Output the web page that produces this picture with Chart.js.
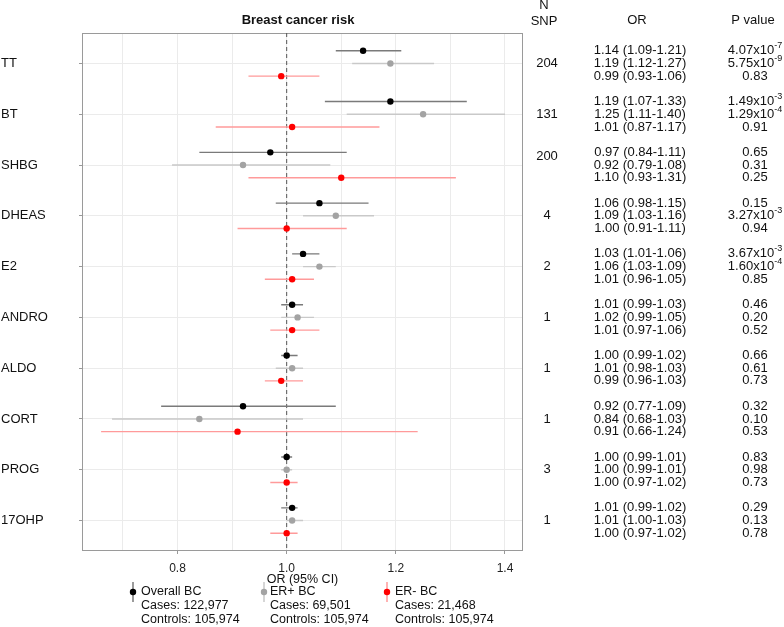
<!DOCTYPE html>
<html>
<head>
<meta charset="utf-8">
<title>Breast cancer risk</title>
<script src="https://cdn.jsdelivr.net/npm/chart.js@4.4.1/dist/chart.umd.min.js"></script>
<style>
  html, body { margin: 0; padding: 0; background: #fff; }
  #wrap { width: 784px; height: 627px; }
</style>
</head>
<body>
<div id="wrap"><canvas id="forest" width="784" height="627"></canvas></div>
<script>
// Data (OR with 95% CI)
const hormones = ['TT', 'BT', 'SHBG', 'DHEAS', 'E2', 'ANDRO', 'ALDO', 'CORT', 'PROG', '17OHP'];
const nSnp = [204, 131, 200, 4, 2, 1, 1, 1, 3, 1];

const overallOR = [1.14, 1.19, 0.97, 1.06, 1.03, 1.01, 1.00, 0.92, 1.00, 1.01];
const overallLo = [1.09, 1.07, 0.84, 0.98, 1.01, 0.99, 0.99, 0.77, 0.99, 0.99];
const overallHi = [1.21, 1.33, 1.11, 1.15, 1.06, 1.03, 1.02, 1.09, 1.01, 1.02];
const overallP = ['4.07x10^-7', '1.49x10^-3', '0.65', '0.15', '3.67x10^-3', '0.46', '0.66', '0.32', '0.83', '0.29'];

const erPosOR = [1.19, 1.25, 0.92, 1.09, 1.06, 1.02, 1.01, 0.84, 1.00, 1.01];
const erPosLo = [1.12, 1.11, 0.79, 1.03, 1.03, 0.99, 0.98, 0.68, 0.99, 1.00];
const erPosHi = [1.27, 1.40, 1.08, 1.16, 1.09, 1.05, 1.03, 1.03, 1.01, 1.03];
const erPosP = ['5.75x10^-9', '1.29x10^-4', '0.31', '3.27x10^-3', '1.60x10^-4', '0.20', '0.61', '0.10', '0.98', '0.13'];

const erNegOR = [0.99, 1.01, 1.10, 1.00, 1.01, 1.01, 0.99, 0.91, 1.00, 1.00];
const erNegLo = [0.93, 0.87, 0.93, 0.91, 0.96, 0.97, 0.96, 0.66, 0.97, 0.97];
const erNegHi = [1.06, 1.17, 1.31, 1.11, 1.05, 1.06, 1.03, 1.24, 1.02, 1.02];
const erNegP = ['0.83', '0.91', '0.25', '0.94', '0.85', '0.52', '0.73', '0.53', '0.73', '0.78'];

const seriesNames = ['Overall BC', 'ER+ BC', 'ER- BC'];
const seriesCases = [122977, 69501, 21468];
const seriesControls = [105974, 105974, 105974];

const xTicks = [0.7, 0.8, 0.9, 1.0, 1.1, 1.2, 1.3, 1.4];

// Styles
const FONT = '"Liberation Sans", Arial, sans-serif';
const pointColors = ['#000000', '#a3a3a3', '#ff0000'];
const lineColors = ['#7a7a7a', '#c9c9c9', '#ff9a9a'];
const rowOffset = [-0.25, 0, 0.25];

const series = [
    { or: overallOR, lo: overallLo, hi: overallHi, p: overallP },
    { or: erPosOR, lo: erPosLo, hi: erPosHi, p: erPosP },
    { or: erNegOR, lo: erNegLo, hi: erNegHi, p: erNegP }
];

function yPos(i, k) {
    return i + 1 + rowOffset[k];
}

function isMajor(v) {
    return Math.round(v * 10) % 2 === 0;
}

// CI segments, separated by gaps
function ciData(s, k) {
    const out = [];
    hormones.forEach((h, i) => {
        out.push({ x: s.lo[i], y: yPos(i, k) });
        out.push({ x: s.hi[i], y: yPos(i, k) });
        out.push({ x: null, y: null });
    });
    return out;
}

const datasets = [];
series.forEach((s, k) => {
    datasets.push({
        label: seriesNames[k],
        data: hormones.map((h, i) => ({ x: s.or[i], y: yPos(i, k) })),
        backgroundColor: pointColors[k],
        borderWidth: 0,
        pointRadius: 3.2,
        pointHoverRadius: 3.2,
        order: 0
    });
    datasets.push({
        label: seriesNames[k] + ' CI',
        data: ciData(s, k),
        showLine: true,
        spanGaps: false,
        borderColor: lineColors[k],
        borderWidth: 1.4,
        pointRadius: 0,
        order: 1
    });
});

// Reference line at OR = 1
datasets.push({
    label: 'ref',
    data: [{ x: 1, y: 0.4 }, { x: 1, y: 10.6 }],
    showLine: true,
    borderColor: '#555555',
    borderWidth: 1,
    borderDash: [4, 3],
    pointRadius: 0,
    order: 2
});

function fmtOR(s, i) {
    return s.or[i].toFixed(2) + ' (' + s.lo[i].toFixed(2) + '-' + s.hi[i].toFixed(2) + ')';
}

function drawP(ctx, txt, cx, cy) {
    const parts = txt.split('^');
    ctx.font = '13px ' + FONT;
    const wb = ctx.measureText(parts[0]).width;
    let we = 0;
    if (parts[1]) {
        ctx.font = '9px ' + FONT;
        we = ctx.measureText(parts[1]).width;
    }
    const x0 = cx - (wb + we) / 2;
    ctx.textAlign = 'left';
    ctx.font = '13px ' + FONT;
    ctx.fillText(parts[0], x0, cy);
    if (parts[1]) {
        ctx.font = '9px ' + FONT;
        ctx.fillText(parts[1], x0 + wb, cy - 5);
    }
}

const panelFrame = {
    id: 'panelFrame',
    beforeDatasetsDraw(chart) {
        const { ctx, chartArea: a } = chart;
        ctx.save();
        ctx.strokeStyle = '#9a9a9a';
        ctx.lineWidth = 1;
        ctx.strokeRect(a.left + 0.5, a.top + 0.5, a.right - a.left - 1, a.bottom - a.top - 1);
        ctx.restore();
    }
};

const sideText = {
    id: 'sideText',
    afterDraw(chart) {
        const { ctx } = chart;
        const y = chart.scales.y;
        ctx.save();
        ctx.fillStyle = '#111';
        ctx.textBaseline = 'middle';
        ctx.textAlign = 'center';

        ctx.font = 'bold 13px ' + FONT;
        ctx.fillText('Breast cancer risk', 298, 20);

        ctx.font = '13px ' + FONT;
        ctx.fillText('N', 544, 5);
        ctx.fillText('SNP', 544, 21);
        ctx.fillText('OR', 637, 20);
        ctx.fillText('P value', 753, 20);

        hormones.forEach((h, i) => {
            ctx.textAlign = 'center';
            ctx.font = '13px ' + FONT;
            const nudge = h === 'SHBG' ? -0.17 : 0;
            ctx.fillText(String(nSnp[i]), 547, y.getPixelForValue(i + 1 + nudge));
            series.forEach((s, k) => {
                const py = y.getPixelForValue(yPos(i, k));
                ctx.textAlign = 'center';
                ctx.font = '13px ' + FONT;
                ctx.fillText(fmtOR(s, i), 640, py);
                drawP(ctx, s.p[i], 755, py);
            });
        });

        // Legend
        const markX = [133, 264, 387];
        const textX = [141, 270, 395];
        const rowY = [592, 606, 620];
        seriesNames.forEach((name, k) => {
            ctx.strokeStyle = lineColors[k];
            ctx.lineWidth = 1.5;
            ctx.beginPath();
            ctx.moveTo(markX[k], rowY[0] - 10);
            ctx.lineTo(markX[k], rowY[0] + 10);
            ctx.stroke();
            ctx.fillStyle = pointColors[k];
            ctx.beginPath();
            ctx.arc(markX[k], rowY[0], 3.2, 0, Math.PI * 2);
            ctx.fill();

            ctx.fillStyle = '#111';
            ctx.textAlign = 'left';
            ctx.font = '12.5px ' + FONT;
            ctx.fillText(name, textX[k], rowY[0]);
            ctx.fillText('Cases: ' + seriesCases[k].toLocaleString('en-US'), textX[k], rowY[1]);
            ctx.fillText('Controls: ' + seriesControls[k].toLocaleString('en-US'), textX[k], rowY[2]);
        });
        ctx.restore();
    }
};

new Chart(document.getElementById('forest'), {
    type: 'scatter',
    data: { datasets },
    options: {
        responsive: false,
        devicePixelRatio: 1,
        animation: false,
        events: [],
        layout: { padding: { left: 1, right: 261, top: 33, bottom: 39 } },
        plugins: {
            legend: { display: false },
            tooltip: { enabled: false },
            title: { display: false }
        },
        scales: {
            x: {
                type: 'linear',
                min: 0.625,
                max: 1.433,
                afterBuildTicks: (s) => { s.ticks = xTicks.map(v => ({ value: v })); },
                afterFit: (s) => { s.height = 37; },
                border: { display: false },
                grid: {
                    color: '#ebebeb',
                    lineWidth: 1,
                    drawTicks: true,
                    tickLength: 3,
                    tickColor: (c) => (c.tick && isMajor(c.tick.value) ? '#999999' : 'rgba(0,0,0,0)')
                },
                ticks: {
                    padding: 7,
                    color: '#222',
                    font: { family: FONT, size: 12 },
                    maxRotation: 0,
                    autoSkip: false,
                    callback: (v) => (isMajor(v) ? v.toFixed(1) : '')
                },
                title: {
                    display: true,
                    text: 'OR (95% CI)',
                    color: '#111',
                    font: { family: FONT, size: 12.5 },
                    padding: { top: 0, bottom: 0.5 }
                }
            },
            y: {
                type: 'linear',
                reverse: true,
                min: 0.4,
                max: 10.6,
                afterBuildTicks: (s) => { s.ticks = hormones.map((h, i) => ({ value: i + 1 })); },
                afterFit: (s) => { s.width = 81; },
                border: { display: false },
                grid: { color: '#ebebeb', lineWidth: 1, drawTicks: true, tickLength: 3, tickColor: '#999999' },
                ticks: {
                    crossAlign: 'far',
                    color: '#111',
                    font: { family: FONT, size: 13 },
                    autoSkip: false,
                    callback: (v) => hormones[Math.round(v) - 1]
                }
            }
        }
    },
    plugins: [panelFrame, sideText]
});
</script>
</body>
</html>
